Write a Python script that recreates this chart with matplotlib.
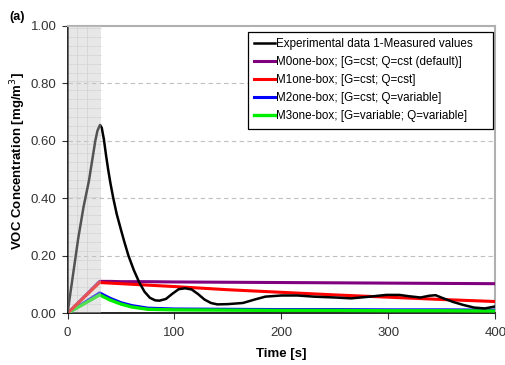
import numpy as np
import matplotlib.pyplot as plt

plt.rcParams['font.family'] = ['Liberation Sans', 'DejaVu Sans']

# measured curve
t_exp = [0, 5, 10, 15, 20, 23, 26, 28, 30.4, 32, 34, 36, 38, 40, 42.8, 46, 50, 53, 57,
         62, 67, 72, 77, 82, 86, 92, 98, 104, 110, 116, 122, 128, 134, 140, 150, 164,
         175, 185, 200, 215, 230, 250, 265, 280, 298, 310, 320, 330, 338, 344, 350,
         360, 370, 380, 390, 400]
c_exp = [0.0, 0.13, 0.26, 0.37, 0.46, 0.53, 0.60, 0.635, 0.655, 0.645, 0.605, 0.55,
         0.50, 0.455, 0.40, 0.345, 0.29, 0.25, 0.20, 0.15, 0.108, 0.075, 0.054, 0.045,
         0.044, 0.050, 0.068, 0.084, 0.087, 0.083, 0.067, 0.048, 0.036, 0.031, 0.032,
         0.036, 0.048, 0.058, 0.062, 0.062, 0.058, 0.055, 0.052, 0.057, 0.064, 0.064,
         0.059, 0.055, 0.061, 0.063, 0.054, 0.040, 0.029, 0.020, 0.017, 0.024]

# model curves
t_mod = [0, 30, 40, 50, 60, 75, 100, 150, 200, 250, 300, 350, 400]
c_m0 = [0.0, 0.111, 0.111, 0.110, 0.110, 0.110, 0.109, 0.108, 0.107, 0.106, 0.105, 0.104, 0.103]
c_m1 = [0.0, 0.107, 0.105, 0.103, 0.101, 0.098, 0.093, 0.082, 0.073, 0.064, 0.056, 0.048, 0.041]
c_m2 = [0.0, 0.071, 0.052, 0.037, 0.027, 0.018, 0.015, 0.014, 0.013, 0.013, 0.012, 0.012, 0.011]
c_m3 = [0.0, 0.064, 0.046, 0.032, 0.022, 0.014, 0.012, 0.011, 0.010, 0.010, 0.009, 0.009, 0.008]

labels = ['Experimental data 1-Measured values',
          'M0one-box; [G=cst; Q=cst (default)]',
          'M1one-box; [G=cst; Q=cst]',
          'M2one-box; [G=cst; Q=variable]',
          'M3one-box; [G=variable; Q=variable]']

fig = plt.figure(figsize=(5.06, 3.65), dpi=100)
ax = fig.add_axes([0.1334, 0.1416, 0.8458, 0.788])

ax.plot(t_exp, c_exp, color='black', lw=1.8, zorder=5, label=labels[0])
ax.plot(t_mod, c_m0, color='#800080', lw=2.2, zorder=3, label=labels[1])
ax.plot(t_mod, c_m1, color='#ff0000', lw=2.2, zorder=4, label=labels[2])
ax.plot(t_mod, c_m2, color='#0000ff', lw=2.2, zorder=3, label=labels[3])
ax.plot(t_mod, c_m3, color='#00ee00', lw=2.4, zorder=3.5, label=labels[4])

# shaded emission period with faint grid underneath
for xv in [9.3, 18.6]:
    ax.plot([xv, xv], [0, 1], color='#d8d8d8', lw=0.5, zorder=2)
for yv in np.arange(0.031, 1.0, 0.031):
    ax.plot([0, 31], [yv, yv], color='#dcdcdc', lw=0.5, zorder=2)
ax.axvspan(0, 31, color='#c8c8c8', alpha=0.42, lw=0, zorder=6)

ax.set_xlim(0, 400)
ax.set_ylim(0, 1.0)
ax.set_xticks([0, 100, 200, 300, 400])
ax.set_yticks([0, 0.2, 0.4, 0.6, 0.8, 1.0])
ax.set_yticklabels(['0.00', '0.20', '0.40', '0.60', '0.80', '1.00'])
for yv in [0.2, 0.4, 0.6, 0.8]:
    ax.axhline(yv, color='#bfbfbf', lw=0.8, ls=(0, (4, 3)), zorder=1)

ax.tick_params(axis='both', labelsize=9.5, colors='#333333', length=4, width=0.8,
               direction='out', pad=4)
ax.tick_params(axis='x', pad=6)
for s in ['left', 'bottom']:
    ax.spines[s].set_color('black')
    ax.spines[s].set_linewidth(1.2)
for s in ['top', 'right']:
    ax.spines[s].set_color('#b0b0b0')
    ax.spines[s].set_linewidth(1.5)

ax.set_xlabel('Time [s]', fontsize=9.5, fontweight='bold', labelpad=6)
ax.set_ylabel('VOC Concentration [mg/m$^3$]', fontsize=9.5, fontweight='bold')
ax.yaxis.set_label_coords(-0.092, 0.53)

leg = ax.legend(loc='upper left', bbox_to_anchor=(0.4217, 0.979, 0.5725, 0.0),
                mode='expand', fontsize=8.4,
                frameon=True, fancybox=False, edgecolor='black', framealpha=1,
                handlelength=1.8, handletextpad=0.05, labelspacing=0.52,
                borderpad=0.55, borderaxespad=0)
leg.get_frame().set_linewidth(0.9)
leg.set_zorder(10)

fig.text(0.018, 0.945, '(a)', fontsize=9, fontweight='bold')

fig.savefig('out.png', dpi=100)
